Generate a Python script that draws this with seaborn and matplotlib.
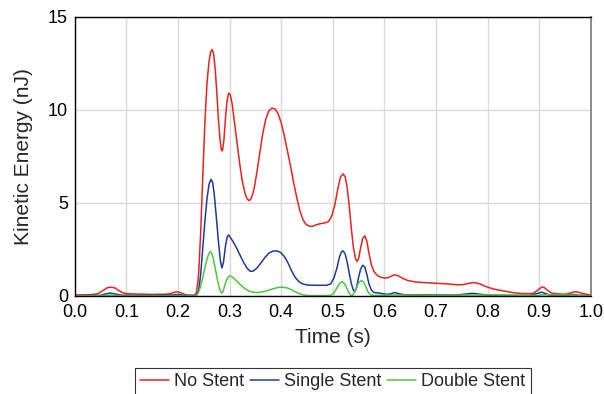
import numpy as np
import pandas as pd
import matplotlib
matplotlib.use("Agg")
import matplotlib.pyplot as plt
import seaborn as sns

# values
t_none = [0.0, 0.03, 0.045, 0.055, 0.063, 0.071, 0.078, 0.085, 0.093, 0.1, 0.12, 0.15, 0.175,
          0.185, 0.193, 0.2, 0.207, 0.215, 0.222, 0.232, 0.236, 0.24, 0.244, 0.248, 0.252,
          0.256, 0.26, 0.263, 0.266, 0.269, 0.272, 0.275, 0.278, 0.281, 0.284, 0.286, 0.289,
          0.292, 0.295, 0.298, 0.301, 0.305, 0.31, 0.315, 0.32, 0.325, 0.33, 0.334, 0.338,
          0.342, 0.347, 0.352, 0.358, 0.364, 0.37, 0.376, 0.382, 0.388, 0.394, 0.4, 0.406,
          0.412, 0.418, 0.424, 0.43, 0.436, 0.442, 0.448, 0.454, 0.46, 0.466, 0.475, 0.485,
          0.492, 0.498, 0.504, 0.51, 0.515, 0.52, 0.524, 0.528, 0.532, 0.536, 0.54, 0.544,
          0.547, 0.55, 0.554, 0.558, 0.562, 0.566, 0.57, 0.575, 0.58, 0.586, 0.593, 0.6,
          0.607, 0.614, 0.62, 0.627, 0.635, 0.645, 0.66, 0.68, 0.7, 0.72, 0.74, 0.75, 0.76,
          0.773, 0.785, 0.795, 0.81, 0.83, 0.85, 0.87, 0.888, 0.897, 0.905, 0.91, 0.917,
          0.925, 0.94, 0.952, 0.96, 0.968, 0.975, 0.985, 1.0]
ke_none = [0.05, 0.06, 0.12, 0.3, 0.44, 0.47, 0.42, 0.28, 0.17, 0.12, 0.1, 0.08, 0.09,
           0.12, 0.2, 0.22, 0.15, 0.05, 0.03, 0.03, 0.2, 1.2, 3.5, 6.5, 9.3,
           11.4, 12.6, 13.1, 13.25, 13.0, 12.2, 11.0, 9.6, 8.5, 7.85, 7.8, 8.4,
           9.6, 10.5, 10.9, 10.85, 10.3, 9.2, 8.1, 7.0, 6.1, 5.5, 5.2, 5.12,
           5.25, 5.7, 6.5, 7.6, 8.7, 9.5, 9.95, 10.1, 10.05, 9.8, 9.3, 8.6,
           7.8, 7.0, 6.1, 5.3, 4.6, 4.1, 3.85, 3.75, 3.74, 3.8, 3.88, 3.93,
           4.0, 4.3, 4.9, 5.8, 6.4, 6.56, 6.4, 5.8, 4.8, 3.6, 2.6, 2.0,
           1.85, 2.0, 2.6, 3.1, 3.23, 2.95, 2.3, 1.65, 1.3, 1.1, 1.0, 0.96,
           0.98, 1.07, 1.13, 1.08, 0.95, 0.83, 0.75, 0.71, 0.68, 0.65, 0.6, 0.6, 0.65,
           0.72, 0.65, 0.52, 0.38, 0.27, 0.17, 0.12, 0.13, 0.3, 0.48, 0.45, 0.28,
           0.14, 0.1, 0.09, 0.15, 0.22, 0.21, 0.12, 0.05]

t_single = [0.0, 0.05, 0.058, 0.068, 0.078, 0.088, 0.15, 0.19, 0.2, 0.21, 0.235, 0.24, 0.244,
            0.248, 0.252, 0.256, 0.26, 0.264, 0.267, 0.27, 0.274, 0.278, 0.282, 0.285, 0.288,
            0.292, 0.295, 0.298, 0.302, 0.307, 0.313, 0.32, 0.327, 0.334, 0.34, 0.346, 0.353,
            0.36, 0.368, 0.376, 0.384, 0.392, 0.399, 0.406, 0.413, 0.42, 0.427, 0.434, 0.442,
            0.452, 0.47, 0.488, 0.496, 0.502, 0.508, 0.513, 0.517, 0.52, 0.524, 0.528, 0.532,
            0.536, 0.54, 0.543, 0.546, 0.55, 0.554, 0.558, 0.562, 0.566, 0.57, 0.575, 0.58,
            0.59, 0.605, 0.613, 0.62, 0.628, 0.64, 0.7, 0.74, 0.758, 0.77, 0.783, 0.8, 0.88,
            0.895, 0.905, 0.913, 0.922, 0.955, 0.965, 0.975, 1.0]
ke_single = [0.0, 0.03, 0.1, 0.15, 0.11, 0.04, 0.02, 0.05, 0.08, 0.03, 0.02, 0.3, 1.2,
             2.6, 4.0, 5.2, 6.0, 6.27, 6.1, 5.5, 4.3, 3.0, 1.9, 1.5, 1.8,
             2.7, 3.15, 3.28, 3.12, 2.9, 2.6, 2.2, 1.8, 1.48, 1.32, 1.34, 1.5,
             1.75, 2.05, 2.3, 2.41, 2.42, 2.33, 2.12, 1.78, 1.35, 1.0, 0.77, 0.64,
             0.58, 0.57, 0.57, 0.65, 0.95, 1.5, 2.1, 2.38, 2.42, 2.25, 1.8, 1.2,
             0.65, 0.3, 0.24, 0.45, 1.0, 1.45, 1.65, 1.55, 1.15, 0.65, 0.3, 0.18,
             0.15, 0.08, 0.12, 0.18, 0.12, 0.06, 0.05, 0.05, 0.1, 0.14, 0.1, 0.04, 0.02,
             0.12, 0.2, 0.12, 0.03, 0.04, 0.08, 0.04, 0.0]

t_double = [0.0, 0.05, 0.065, 0.075, 0.09, 0.232, 0.238, 0.243, 0.248, 0.253, 0.258, 0.262,
            0.265, 0.268, 0.272, 0.276, 0.28, 0.284, 0.287, 0.291, 0.295, 0.299, 0.302, 0.307,
            0.313, 0.32, 0.328, 0.336, 0.345, 0.355, 0.365, 0.375, 0.385, 0.395, 0.402, 0.41,
            0.418, 0.426, 0.435, 0.445, 0.46, 0.495, 0.502, 0.507, 0.512, 0.516, 0.519, 0.523,
            0.527, 0.531, 0.535, 0.538, 0.542, 0.546, 0.55, 0.554, 0.557, 0.561, 0.565, 0.569,
            0.574, 0.58, 0.62, 0.7, 0.77, 0.9, 0.905, 0.965, 1.0]
ke_double = [0.0, 0.01, 0.04, 0.04, 0.0, 0.0, 0.1, 0.45, 1.0, 1.65, 2.15, 2.38,
             2.32, 2.05, 1.5, 0.9, 0.42, 0.15, 0.22, 0.6, 0.92, 1.06, 1.07, 0.98,
             0.82, 0.62, 0.42, 0.28, 0.2, 0.18, 0.22, 0.3, 0.39, 0.46, 0.47, 0.44,
             0.36, 0.24, 0.12, 0.04, 0.01, 0.02, 0.15, 0.38, 0.62, 0.74, 0.75, 0.64,
             0.42, 0.18, 0.03, 0.02, 0.2, 0.48, 0.7, 0.8, 0.81, 0.68, 0.42, 0.18,
             0.05, 0.02, 0.05, 0.03, 0.05, 0.03, 0.06, 0.04, 0.0]

labels = ["No Stent", "Single Stent", "Double Stent"]
x_ticks = [0.0, 0.1, 0.2, 0.3, 0.4, 0.5, 0.6, 0.7, 0.8, 0.9, 1.0]
y_ticks = [0, 5, 10, 15]

df = pd.concat([
    pd.DataFrame({"Time": t_none, "KE": ke_none, "Case": labels[0]}),
    pd.DataFrame({"Time": t_single, "KE": ke_single, "Case": labels[1]}),
    pd.DataFrame({"Time": t_double, "KE": ke_double, "Case": labels[2]}),
])

sns.set_style("white")
plt.rcParams["font.family"] = ["Liberation Sans", "DejaVu Sans"]

fig, ax = plt.subplots(figsize=(6.04, 3.94), dpi=100)
fig.subplots_adjust(left=0.124, right=0.978, top=0.957, bottom=0.249)

colors = {"No Stent": "#e8231f", "Single Stent": "#1f3a9e", "Double Stent": "#4cc63a"}
sns.lineplot(data=df, x="Time", y="KE", hue="Case", palette=colors,
             estimator=None, sort=False, linewidth=1.1, ax=ax, legend=True)

ax.set_xlim(0, 1)
ax.set_ylim(0, 15)
ax.set_xticks(x_ticks)
ax.set_xticklabels([f"{v:.1f}" for v in x_ticks])
ax.set_yticks(y_ticks)
ax.grid(True, color="#d9d9d9", linewidth=1)
ax.tick_params(labelsize=13, direction="in", length=3, colors="#999999",
               labelcolor="black")
ax.tick_params(axis="x", pad=6)
ax.tick_params(axis="y", pad=5)
ax.set_xlabel("Time (s)", fontsize=15, labelpad=5)
ax.set_ylabel("Kinetic Energy (nJ)", fontsize=15, labelpad=11)

for side in ["left", "top", "bottom"]:
    ax.spines[side].set_color("black")
    ax.spines[side].set_linewidth(1)
ax.spines["right"].set_color("#777777")
ax.spines["right"].set_linewidth(1.2)

handles, labs = ax.get_legend_handles_labels()
ax.get_legend().remove()
leg = fig.legend(handles, labs, loc="upper center", bbox_to_anchor=(0.551, 0.067),
                 ncol=3, fontsize=13, frameon=True, fancybox=False,
                 handlelength=1.6, handletextpad=0.3, columnspacing=0.3,
                 borderpad=0.3, borderaxespad=0)
leg.get_frame().set_edgecolor("black")
leg.get_frame().set_linewidth(0.8)

fig.savefig("out.png", dpi=100)
